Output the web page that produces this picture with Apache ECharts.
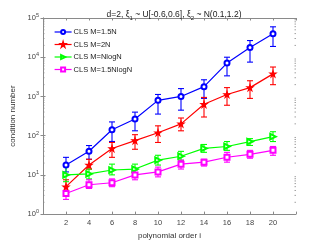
<!DOCTYPE html>
<html><head><meta charset="utf-8">
<script src="https://cdn.jsdelivr.net/npm/echarts@6/dist/echarts.min.js"></script>
<style>html,body{margin:0;padding:0;background:#fff}#c{width:327px;height:245px}</style>
</head><body><div id="c"></div>
<script>
const orders = [2,4,6,8,10,12,14,16,18,20];
const seriesNames = ['CLS M=1.5N','CLS M=2N','CLS M=NlogN','CLS M=1.5NlogN'];
const blueMean = [17.8,40,141,266,794,1000,1778,7079,17800,39800];
const blueLo   = [11.9,25,71,133,355,447,891,3350,7500,18800];
const blueHi   = [28,56,224,398,1122,1585,2660,10000,26600,59600];
const redMean  = [5.0,17.8,47,75,119,200,631,1122,1679,3758];
const redLo    = [3.8,14,28,45,67,133,299,596,891,1995];
const redHi    = [7.5,25,67,106,178,282,944,1679,2512,5623];
const greenMean= [10,10.6,13.3,14.1,23.7,29.9,47.3,53,70.8,94.4];
const greenLo  = [6.7,7.9,10,10.6,17.8,23.7,37.6,42.2,56.2,70.8];
const greenHi  = [17.8,14.1,18.8,18.8,31.6,39.8,59.6,70.8,84,126];
const magMean  = [3.35,5.6,6.3,10,11.9,18.8,21.1,28.2,33.5,42.2];
const magLo    = [2.37,4.5,5.0,7.5,8.9,14.1,16.8,21.1,26.6,31.6];
const magHi    = [5.0,7.5,7.9,13.3,15.8,23.7,25.1,37.6,42.2,53];
const xTicks = [2,4,6,8,10,12,14,16,18,20];
const yDecades = [1,10,100,1000,10000,100000];
const yMinorTicks = [2,3,4,5,6,7,8,9,20,30,40,50,60,70,80,90,200,300,400,500,600,700,800,900,
  2000,3000,4000,5000,6000,7000,8000,9000,20000,30000,40000,50000,60000,70000,80000,90000];

const colors = ['#0000ff','#ff0000','#00ff00','#ff00ff'];
const means = [blueMean, redMean, greenMean, magMean];
const los = [blueLo, redLo, greenLo, magLo];
const his = [blueHi, redHi, greenHi, magHi];
const star = 'path://M50,0 L61,35 L98,35 L68,57 L79,91 L50,70 L21,91 L32,57 L2,35 L39,35 Z';
const symbols = ['emptyCircle', star, 'emptyTriangle', 'emptyRect'];
const symRot = [0,0,-90,0];
const symSize = [5,6,5.5,5];

const chart = echarts.init(document.getElementById('c'), null, {renderer:'canvas'});
const FONT = 'Liberation Sans, Arial, sans-serif';
const axisCol = '#8a8a8a';
const series = [];
for (let s=0; s<4; s++) {
  series.push({
    name: seriesNames[s], type: 'line', xAxisIndex:0, yAxisIndex:0,
    data: orders.map((x,i)=>[x, means[s][i]]),
    lineStyle:{color:colors[s], width:1.2},
    itemStyle:{color:colors[s], borderColor:colors[s], borderWidth:1.2},
    symbol: symbols[s], symbolSize: symSize[s], symbolRotate: symRot[s],
    showAllSymbol:true, animation:false, z:3
  });
  series.push({
    type:'custom', xAxisIndex:0, yAxisIndex:0, animation:false, z:2,
    data: orders.map((x,i)=>[x, los[s][i], his[s][i]]),
    renderItem: function(params, api){
      const p1 = api.coord([api.value(0), api.value(1)]);
      const p2 = api.coord([api.value(0), api.value(2)]);
      const w = 3;
      const st = {stroke: colors[s], lineWidth:1.1};
      return {type:'group', children:[
        {type:'line', shape:{x1:p1[0],y1:p1[1],x2:p2[0],y2:p2[1]}, style:st},
        {type:'line', shape:{x1:p1[0]-w,y1:p1[1],x2:p1[0]+w,y2:p1[1]}, style:st},
        {type:'line', shape:{x1:p2[0]-w,y1:p2[1],x2:p2[0]+w,y2:p2[1]}, style:st}
      ]};
    }
  });
}
// minor log ticks on left and right box edges
series.push({
  type:'custom', xAxisIndex:0, yAxisIndex:0, animation:false, silent:true, z:1,
  data: yMinorTicks.map(v=>[0, v]),
  renderItem: function(params, api){
    const pl = api.coord([0, api.value(1)]);
    const pr = api.coord([22, api.value(1)]);
    const st = {stroke: axisCol, lineWidth:0.8};
    return {type:'group', children:[
      {type:'line', shape:{x1:pl[0],y1:pl[1],x2:pl[0]+1.5,y2:pl[1]}, style:st},
      {type:'line', shape:{x1:pr[0]-1.5,y1:pr[1],x2:pr[0],y2:pr[1]}, style:st}
    ]};
  }
});

const xBase = {type:'value', min:0, max:22, interval:2,
  axisLine:{lineStyle:{color:axisCol, width:1}}, splitLine:{show:false},
  axisTick:{inside:true, length:2.5, lineStyle:{color:axisCol}}};
const yBase = {type:'log', logBase:10, min:1, max:100000,
  axisLine:{lineStyle:{color:axisCol, width:1}}, splitLine:{show:false},
  axisTick:{inside:true, length:2.5, lineStyle:{color:axisCol}},
  minorTick:{show:false}};

chart.setOption({
  animation:false,
  backgroundColor:'#fff',
  title:{
    text:'d=2, ξ{sub|1} ~ U[-0.6,0.6], ξ{sub|2} ~ N(0.1,1.2)',
    left:169, top:4, textAlign:'center',
    textStyle:{fontFamily:FONT, fontSize:8.5, fontWeight:'normal', color:'#222',
      rich:{sub:{fontFamily:FONT, fontSize:6, verticalAlign:'top', padding:[6,0,0,0], color:'#222'}}}
  },
  grid:{left:43, right:31, top:18, bottom:27, containLabel:false},
  legend:{
    data:seriesNames, orient:'vertical', left:49, top:23,
    itemWidth:17, itemHeight:5, itemGap:4.5,
    lineStyle:{width:1.2},
    textStyle:{fontFamily:FONT, fontSize:7.5, color:'#222', padding:[0,0,0,-3]},
    backgroundColor:'#fff'
  },
  xAxis:[
    Object.assign({}, xBase, {position:'bottom',
      name:'polynomial order i', nameLocation:'middle', nameGap:17,
      nameTextStyle:{fontFamily:FONT, fontSize:8, color:'#333'},
      axisLabel:{fontFamily:FONT, fontSize:7.5, color:'#444', margin:5,
        formatter:function(v){return (v===0||v===22)?'':String(v);}}}),
    Object.assign({}, xBase, {position:'top', axisLabel:{show:false}})
  ],
  yAxis:[
    Object.assign({}, yBase, {position:'left',
      name:'condition number', nameLocation:'middle', nameGap:24, nameRotate:90,
      nameTextStyle:{fontFamily:FONT, fontSize:8, color:'#333'},
      axisLabel:{fontFamily:FONT, color:'#444', margin:4,
        formatter:function(v){return '{b|10}{s|'+Math.round(Math.log10(v))+'}';},
        rich:{b:{fontFamily:FONT, fontSize:7.5, color:'#444'},
              s:{fontFamily:FONT, fontSize:5.5, color:'#444', verticalAlign:'bottom', padding:[0,0,5,0]}}}}),
    Object.assign({}, yBase, {position:'right', axisLabel:{show:false}})
  ],
  series: series
});
</script></body></html>
